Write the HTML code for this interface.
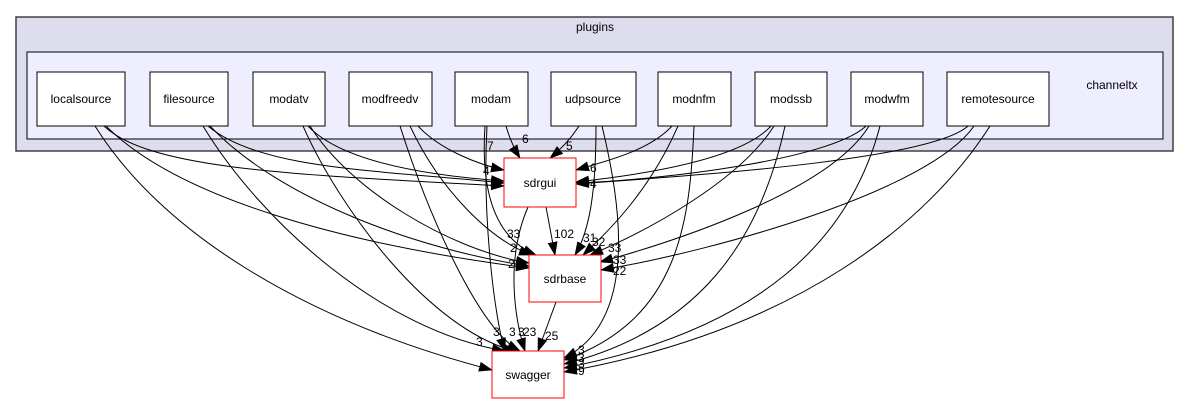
<!DOCTYPE html>
<html><head><meta charset="utf-8"><style>
html,body{margin:0;padding:0;background:#fff;}
svg{display:block;}
text{font-family:"Liberation Sans",Helvetica,Arial,sans-serif;}
</style></head><body>
<svg width="1189" height="404" viewBox="0 0 1189 404" xmlns="http://www.w3.org/2000/svg">
<defs>
<marker id="a" markerWidth="14" markerHeight="10" refX="13" refY="5" orient="auto" markerUnits="userSpaceOnUse">
<path d="M0,0 L14,5 L0,10 Z" fill="#000"/>
</marker>
</defs>
<rect x="16" y="17" width="1157" height="134" fill="#ddddee" stroke="#404040" stroke-width="1.5"/>
<text x="595" y="31" font-size="12" text-anchor="middle">plugins</text>
<rect x="27" y="52" width="1136" height="87" fill="#eeeeff" stroke="#000" stroke-width="1"/>
<text x="1112" y="89" font-size="12" text-anchor="middle">channeltx</text>
<g fill="#fff" stroke="#000" stroke-width="1">
<rect x="37" y="72" width="88" height="54"/>
<rect x="150" y="72" width="78" height="54"/>
<rect x="253" y="72" width="72" height="54"/>
<rect x="349" y="72" width="83" height="54"/>
<rect x="455" y="72" width="73" height="54"/>
<rect x="551" y="72" width="85" height="54"/>
<rect x="658" y="72" width="73" height="54"/>
<rect x="755" y="72" width="72" height="54"/>
<rect x="851" y="72" width="72" height="54"/>
<rect x="947" y="72" width="102" height="54"/>
</g>
<g font-size="12" text-anchor="middle">
<text x="81" y="103">localsource</text>
<text x="189" y="103">filesource</text>
<text x="289" y="103">modatv</text>
<text x="390" y="103">modfreedv</text>
<text x="491" y="103">modam</text>
<text x="593" y="103">udpsource</text>
<text x="694" y="103">modnfm</text>
<text x="791" y="103">modssb</text>
<text x="887" y="103">modwfm</text>
<text x="998" y="103">remotesource</text>
</g>
<g fill="none" stroke="#000" stroke-width="1" marker-end="url(#a)">
<path d="M104,126 C150,170 300,175 504,186"/>
<path d="M106,126 C180,200 350,245 529,268"/>
<path d="M95,126 C160,230 300,320 492,370"/>
<path d="M208,126 C260,170 380,170 504,183"/>
<path d="M210,126 C280,200 420,250 529,266"/>
<path d="M203,126 C260,220 380,330 505,351"/>
<path d="M308,126 C340,160 420,175 504,181"/>
<path d="M310,126 C350,190 450,250 529,263"/>
<path d="M303,126 C340,210 430,330 515,351"/>
<path d="M418,126 C440,150 480,165 504,170"/>
<path d="M410,126 C440,190 490,240 532,255"/>
<path d="M400,126 C430,220 480,330 520,351"/>
<path d="M506,126 C510,140 515,150 520,158"/>
<path d="M485,126 C480,200 500,240 536,255"/>
<path d="M487,126 C482,220 495,320 505,351"/>
<path d="M579,126 C570,140 560,150 550,158"/>
<path d="M596,126 C596,190 590,230 575,255"/>
<path d="M602,126 C620,200 640,320 564,358"/>
<path d="M672,126 C650,150 610,160 576,170"/>
<path d="M678,126 C650,190 610,230 583,255"/>
<path d="M694,126 C690,220 680,320 564,360"/>
<path d="M771,126 C740,160 640,175 576,182"/>
<path d="M774,126 C740,180 650,230 590,255"/>
<path d="M785,126 C760,240 700,330 564,364"/>
<path d="M866,126 C830,160 660,180 576,183"/>
<path d="M869,126 C830,190 680,240 600,262"/>
<path d="M880,126 C850,240 760,330 564,368"/>
<path d="M968,126 C930,160 700,175 576,184"/>
<path d="M974,126 C930,190 720,250 601,270"/>
<path d="M990,126 C930,220 800,330 564,372"/>
<path d="M546,207 L555,255"/>
<path d="M528,207 C505,260 515,320 525,351"/>
<path d="M556,302 L538,351"/>
</g>
<g fill="#fff" stroke="#ff0000" stroke-width="1">
<rect x="504" y="158" width="72" height="49"/>
<rect x="529" y="255" width="72" height="47"/>
<rect x="492" y="351" width="72" height="47"/>
</g>
<g font-size="12" text-anchor="middle">
<text x="540" y="187">sdrgui</text>
<text x="565" y="283">sdrbase</text>
<text x="528" y="379">swagger</text>
</g>
<g font-size="12">
<text x="487" y="150">7</text>
<text x="522" y="143">6</text>
<text x="566" y="150">5</text>
<text x="483" y="175">4</text>
<text x="590" y="172">6</text>
<text x="590" y="188">4</text>
<text x="554" y="238">102</text>
<text x="507" y="238">33</text>
<text x="510" y="252">2</text>
<text x="508" y="268">2</text>
<text x="583" y="242">31</text>
<text x="592" y="246">32</text>
<text x="608" y="252">33</text>
<text x="613" y="264">33</text>
<text x="613" y="275">22</text>
<text x="476" y="346">3</text>
<text x="493" y="336">3</text>
<text x="509" y="336">3</text>
<text x="518" y="336">3</text>
<text x="523" y="336">23</text>
<text x="545" y="340">25</text>
<text x="578" y="354">3</text>
<text x="578" y="362">3</text>
<text x="578" y="368">3</text>
<text x="578" y="375">9</text>
</g>
</svg>
</body></html>
